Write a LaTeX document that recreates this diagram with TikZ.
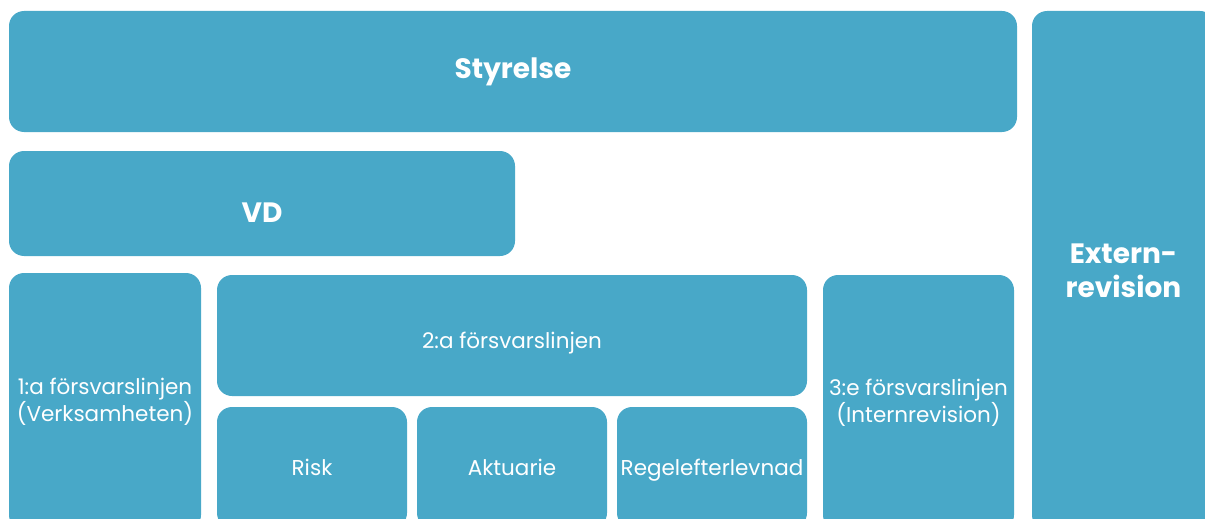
\documentclass[tikz,border=0pt]{standalone}
\usepackage{fontspec}
\setmainfont{Poppins}
\definecolor{boxc}{HTML}{48A8C8}
\begin{document}
\begin{tikzpicture}[x=1pt,y=-1pt,
  box/.style={fill=boxc, draw=none, rounded corners=15pt, text=white, align=center, inner sep=0pt},
  reg/.style={font=\fontsize{21.5}{27}\selectfont},
  big/.style={font=\fontsize{28}{34}\selectfont\bfseries}]
\useasboundingbox (0,0) rectangle (1205,519);
\node[box, big, minimum width=1008pt, minimum height=121pt] (sty) at (513,71.5) {Styrelse};
\node[box, big, minimum width=183pt, minimum height=519pt] (ext) at (1123.5,270.5) {Extern-\\revision};
\node[box, big, minimum width=506pt, minimum height=105pt] (vd) at (262,203.5) {\raisebox{-18.5pt}[0pt][0pt]{VD}};
\node[box, reg, minimum width=192pt, minimum height=257pt] (l1) at (105,401.5) {1:a försvarslinjen\\(Verksamheten)};
\node[box, reg, minimum width=590pt, minimum height=121pt] (l2) at (512,335.5) {\raisebox{-12.5pt}[0pt][0pt]{2:a försvarslinjen}};
\node[box, reg, minimum width=190pt, minimum height=121pt] (risk) at (312,467.5) {Risk};
\node[box, reg, minimum width=190pt, minimum height=121pt] (akt) at (512,467.5) {Aktuarie};
\node[box, reg, minimum width=190pt, minimum height=121pt, text depth=0pt] (rege) at (712,467.5) {Regelefterlevnad};
\node[box, reg, minimum width=191pt, minimum height=255pt] (l3) at (918.5,402.5) {3:e försvarslinjen\\(Internrevision)};
\end{tikzpicture}
\end{document}
